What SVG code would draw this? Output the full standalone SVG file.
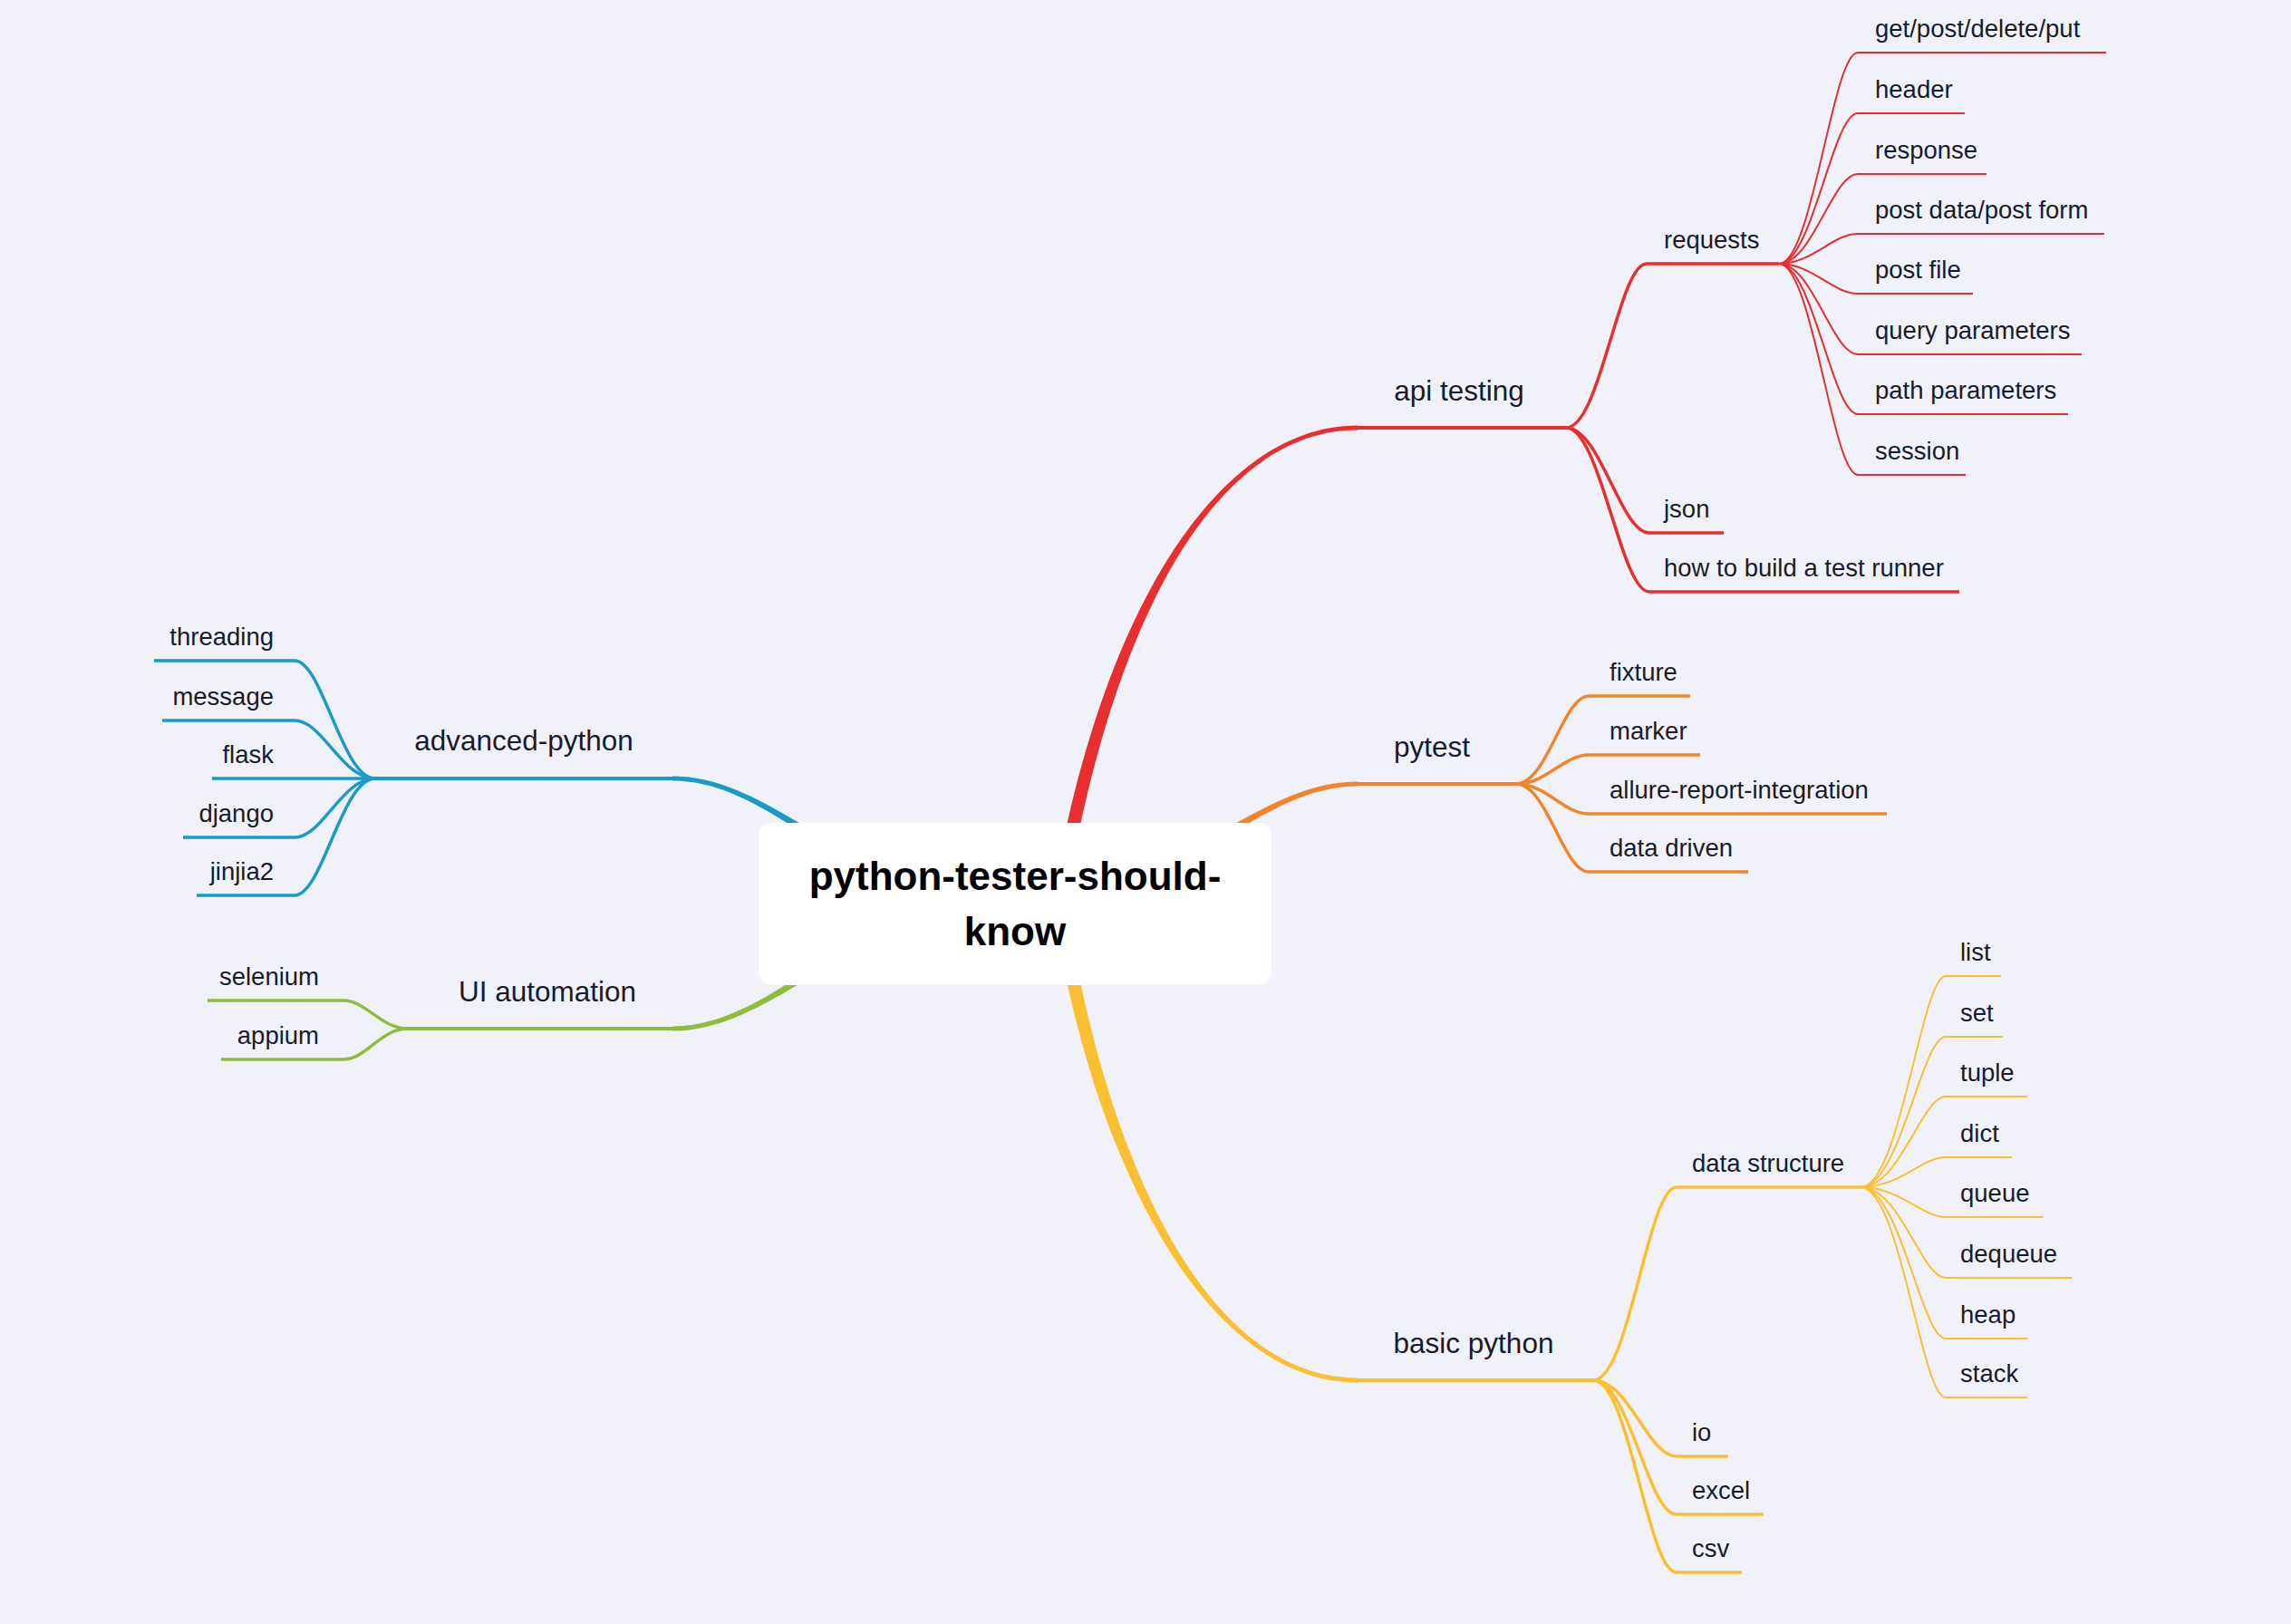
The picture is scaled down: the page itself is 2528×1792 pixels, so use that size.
<svg xmlns="http://www.w3.org/2000/svg" width="2528" height="1792" viewBox="0 0 2528 1792">
<style>
  .t1 { font-family: "Liberation Sans", Arial, sans-serif; font-size: 31.5px; fill: #171B2D; }
  .t2 { font-family: "Liberation Sans", Arial, sans-serif; font-size: 27.5px; fill: #171B2D; }
  .root { font-family: "Liberation Sans", Arial, sans-serif; font-size: 44px; font-weight: bold; fill: #000000; text-anchor: middle; }
  .mid { text-anchor: middle; }
  .end { text-anchor: end; }
  .c { fill: none; stroke-linecap: butt; stroke-linejoin: round; }
  .l1 { stroke-width: 4; }
  .l2 { stroke-width: 3.5; }
  .l3 { stroke-width: 2; }
  .red { stroke: #E62F2E; }
  .orange { stroke: #F2852C; }
  .yellow { stroke: #FBBF33; }
  .blue { stroke: #1A9BC6; }
  .green { stroke: #8FBC3B; }
</style>
<rect x="0" y="0" width="2528" height="1792" fill="#F1F2F9"/>

<g id="connectors">
  <!-- main tapered branches -->
  <path fill="#E62F2E" d="M1160.6,998.8 C1207.6,698.8 1335,469.5 1498,469.5 L1498,474.5 C1335,474.5 1222.4,701.2 1175.4,1001.2 Z"/>
  <path fill="#FBBF33" d="M1160.6,995.2 C1207.6,1295.2 1335,1525.5 1498,1525.5 L1498,1520.5 C1335,1520.5 1222.4,1292.8 1175.4,992.8 Z"/>
  <path fill="#F2852C" d="M1120,990 C1300,990 1380,862.5 1498,862.5 L1498,867.5 C1380,867.5 1300,1004 1120,1004 Z"/>
  <path fill="#1A9BC6" d="M1120,990 C940,990 860,856.5 742,856.5 L742,861.5 C860,861.5 940,1004 1120,1004 Z"/>
  <path fill="#8FBC3B" d="M1120,990 C940,990 860,1132.5 742,1132.5 L742,1137.5 C860,1137.5 940,1004 1120,1004 Z"/>

  <!-- level 1 horizontals -->
  <path class="c l1 red" d="M1496,472 H1730"/>
  <path class="c l1 orange" d="M1496,865 H1675"/>
  <path class="c l1 yellow" d="M1496,1523 H1760"/>
  <path class="c l1 blue" d="M744,859 H412"/>
  <path class="c l1 green" d="M744,1135 H448"/>

  <!-- api testing children -->
  <path class="c l2 red" d="M1728,472 C1766,472 1786,291 1817,291 H1963"/>
  <path class="c l2 red" d="M1728,472 C1766,472 1788,588 1820,588 H1902"/>
  <path class="c l2 red" d="M1728,472 C1766,472 1788,653 1820,653 H2162"/>

  <!-- requests children -->
  <path class="c l3 red" d="M1963,291 C2000,291 2022,58 2050,58 H2324"/>
  <path class="c l3 red" d="M1963,291 C2000,291 2022,125 2050,125 H2168"/>
  <path class="c l3 red" d="M1963,291 C2000,291 2022,192 2050,192 H2192"/>
  <path class="c l3 red" d="M1963,291 C2000,291 2022,258 2050,258 H2322"/>
  <path class="c l3 red" d="M1963,291 C2000,291 2022,324 2050,324 H2177"/>
  <path class="c l3 red" d="M1963,291 C2000,291 2022,391 2050,391 H2297"/>
  <path class="c l3 red" d="M1963,291 C2000,291 2022,457 2050,457 H2282"/>
  <path class="c l3 red" d="M1963,291 C2000,291 2022,524 2050,524 H2169"/>

  <!-- pytest children -->
  <path class="c l2 orange" d="M1673,865 C1707,865 1725,768 1753,768 H1865"/>
  <path class="c l2 orange" d="M1673,865 C1707,865 1725,833 1753,833 H1876"/>
  <path class="c l2 orange" d="M1673,865 C1707,865 1725,898 1753,898 H2082"/>
  <path class="c l2 orange" d="M1673,865 C1707,865 1725,962 1753,962 H1929"/>

  <!-- basic python children -->
  <path class="c l2 yellow" d="M1758,1523 C1798,1523 1818,1310 1850,1310 H2055"/>
  <path class="c l2 yellow" d="M1758,1523 C1798,1523 1818,1607 1850,1607 H1907"/>
  <path class="c l2 yellow" d="M1758,1523 C1798,1523 1818,1671 1850,1671 H1946"/>
  <path class="c l2 yellow" d="M1758,1523 C1798,1523 1818,1735 1850,1735 H1922"/>

  <!-- data structure children -->
  <path class="c l3 yellow" d="M2053,1310 C2097,1310 2120,1077 2147,1077 H2208"/>
  <path class="c l3 yellow" d="M2053,1310 C2097,1310 2120,1144 2147,1144 H2210"/>
  <path class="c l3 yellow" d="M2053,1310 C2097,1310 2120,1210 2147,1210 H2237"/>
  <path class="c l3 yellow" d="M2053,1310 C2097,1310 2120,1277 2147,1277 H2220"/>
  <path class="c l3 yellow" d="M2053,1310 C2097,1310 2120,1343 2147,1343 H2254"/>
  <path class="c l3 yellow" d="M2053,1310 C2097,1310 2120,1410 2147,1410 H2286"/>
  <path class="c l3 yellow" d="M2053,1310 C2097,1310 2120,1477 2147,1477 H2237"/>
  <path class="c l3 yellow" d="M2053,1310 C2097,1310 2120,1542 2147,1542 H2237"/>

  <!-- advanced-python children -->
  <path class="c l2 blue" d="M414,859 C377,859 356,729 325,729 H170"/>
  <path class="c l2 blue" d="M414,859 C377,859 356,795 325,795 H179"/>
  <path class="c l2 blue" d="M414,859 H234"/>
  <path class="c l2 blue" d="M414,859 C377,859 356,924 325,924 H202"/>
  <path class="c l2 blue" d="M414,859 C377,859 356,988 325,988 H217"/>

  <!-- UI automation children -->
  <path class="c l2 green" d="M450,1135 C420,1135 404,1104 379,1104 H229"/>
  <path class="c l2 green" d="M450,1135 C420,1135 404,1169 379,1169 H244"/>
</g>

<g id="node-root">
  <rect x="837" y="908" width="566" height="179" rx="14" ry="14" fill="#FFFFFF"/>
  <text class="root" x="1120" y="982">python-tester-should-</text>
  <text class="root" x="1120" y="1043">know</text>
</g>

<g id="node-api-testing"><text class="t1 mid" x="1610" y="442">api testing</text></g>
<g id="node-requests"><text class="t2" x="1836" y="274">requests</text></g>
<g id="node-get-post-delete-put"><text class="t2" x="2069" y="41">get/post/delete/put</text></g>
<g id="node-header"><text class="t2" x="2069" y="108">header</text></g>
<g id="node-response"><text class="t2" x="2069" y="175">response</text></g>
<g id="node-post-data"><text class="t2" x="2069" y="241">post data/post form</text></g>
<g id="node-post-file"><text class="t2" x="2069" y="307">post file</text></g>
<g id="node-query-parameters"><text class="t2" x="2069" y="374">query parameters</text></g>
<g id="node-path-parameters"><text class="t2" x="2069" y="440">path parameters</text></g>
<g id="node-session"><text class="t2" x="2069" y="507">session</text></g>
<g id="node-json"><text class="t2" x="1836" y="571">json</text></g>
<g id="node-test-runner"><text class="t2" x="1836" y="636">how to build a test runner</text></g>

<g id="node-pytest"><text class="t1 mid" x="1580" y="835">pytest</text></g>
<g id="node-fixture"><text class="t2" x="1776" y="751">fixture</text></g>
<g id="node-marker"><text class="t2" x="1776" y="816">marker</text></g>
<g id="node-allure"><text class="t2" x="1776" y="881">allure-report-integration</text></g>
<g id="node-data-driven"><text class="t2" x="1776" y="945">data driven</text></g>

<g id="node-basic-python"><text class="t1 mid" x="1626" y="1493">basic python</text></g>
<g id="node-data-structure"><text class="t2" x="1867" y="1293">data structure</text></g>
<g id="node-list"><text class="t2" x="2163" y="1060">list</text></g>
<g id="node-set"><text class="t2" x="2163" y="1127">set</text></g>
<g id="node-tuple"><text class="t2" x="2163" y="1193">tuple</text></g>
<g id="node-dict"><text class="t2" x="2163" y="1260">dict</text></g>
<g id="node-queue"><text class="t2" x="2163" y="1326">queue</text></g>
<g id="node-dequeue"><text class="t2" x="2163" y="1393">dequeue</text></g>
<g id="node-heap"><text class="t2" x="2163" y="1460">heap</text></g>
<g id="node-stack"><text class="t2" x="2163" y="1525">stack</text></g>
<g id="node-io"><text class="t2" x="1867" y="1590">io</text></g>
<g id="node-excel"><text class="t2" x="1867" y="1654">excel</text></g>
<g id="node-csv"><text class="t2" x="1867" y="1718">csv</text></g>

<g id="node-advanced-python"><text class="t1 mid" x="578" y="828">advanced-python</text></g>
<g id="node-threading"><text class="t2 end" x="302" y="712">threading</text></g>
<g id="node-message"><text class="t2 end" x="302" y="778">message</text></g>
<g id="node-flask"><text class="t2 end" x="302" y="842">flask</text></g>
<g id="node-django"><text class="t2 end" x="302" y="907">django</text></g>
<g id="node-jinjia2"><text class="t2 end" x="302" y="971">jinjia2</text></g>

<g id="node-ui-automation"><text class="t1 mid" x="604" y="1105">UI automation</text></g>
<g id="node-selenium"><text class="t2 end" x="352" y="1087">selenium</text></g>
<g id="node-appium"><text class="t2 end" x="352" y="1152">appium</text></g>
</svg>
